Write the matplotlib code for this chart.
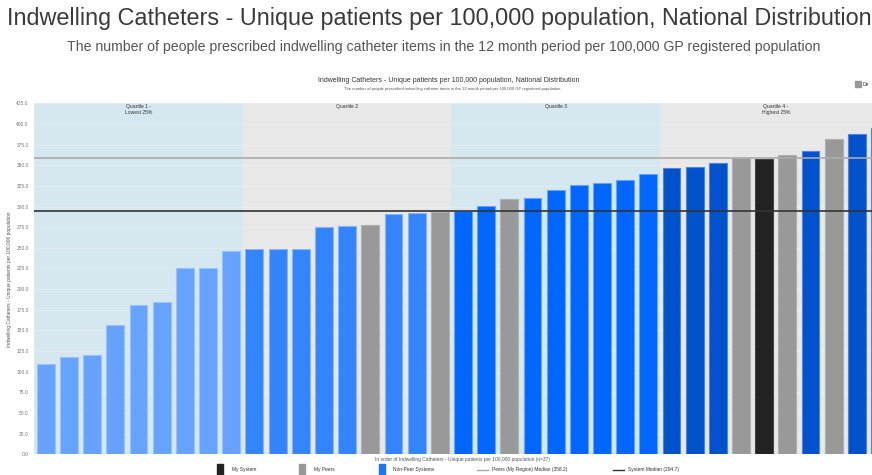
import numpy as np
import matplotlib.pyplot as plt
from matplotlib.patches import Rectangle
from matplotlib.lines import Line2D

plt.rcParams['font.family'] = ['Liberation Sans', 'DejaVu Sans']

# values per system, sorted ascending (n=37)
values = [109.0, 117.4, 119.9, 156.2, 181.2, 184.8, 225.6, 225.6, 246.2,
          248.2, 248.2, 248.2, 275.6, 276.8, 278.0, 290.6, 292.5, 293.7,
          294.7, 300.3, 309.1, 310.3, 320.4, 325.7, 328.9, 332.1, 339.4,
          346.6, 347.9, 352.7, 358.2, 358.0, 362.8, 366.9, 381.8, 387.4, 394.7]
# 'q' = non-peer, 'p' = peer, 'm' = my system
kind = ['q'] * 14 + ['p'] + ['q'] * 2 + ['p'] + ['q'] * 2 + ['p'] + ['q'] * 9 + \
       ['p', 'm', 'p', 'q', 'p', 'q', 'q']
quartile_ends = [9, 18, 27, 37]
quartile_labels = ['Quartile 1 -\nLowest 25%', 'Quartile 2', 'Quartile 3', 'Quartile 4 -\nHighest 25%']
peer_median = 358.2
system_median = 294.7

q_colors = ['#66a3ff', '#3385ff', '#0066ff', '#0052cc']
q_edges = ['#99c2ff', '#85b5ff', '#66a3ff', '#4d86e0']
band_colors = ['#d5e8ef', '#e8e8e8', '#d5e8ef', '#e8e8e8']

W, H = 872, 475
fig = plt.figure(figsize=(W / 100, H / 100), dpi=100)
ax = fig.add_axes([34.3 / W, 1 - 454.3 / H, 857.3 / W, 351 / H])

n = len(values)
x = np.arange(n)
colors, edges = [], []
for i, k in enumerate(kind):
    q = next(j for j, e in enumerate(quartile_ends) if i < e)
    if k == 'p':
        colors.append('#999999'); edges.append('#b0b0b0')
    elif k == 'm':
        colors.append('#222222'); edges.append('#444444')
    else:
        colors.append(q_colors[q]); edges.append(q_edges[q])

start = -0.5
for j, e in enumerate(quartile_ends):
    ax.axvspan(start, e - 0.5, color=band_colors[j], zorder=0, lw=0)
    ax.text((start + e - 0.5) / 2, 424, quartile_labels[j], ha='center', va='top',
            fontsize=3.6, color='#333333', linespacing=1.3)
    start = e - 0.5

for yv in np.arange(0, 426, 25):
    ax.axhline(yv, color='white', lw=0.5, alpha=0.35, zorder=1)

ax.bar(x, values, width=0.77, color=colors, edgecolor=edges, linewidth=0.8, zorder=2)
ax.axhline(peer_median, color='#aaaaaa', lw=1.2, zorder=3)
ax.axhline(system_median, color='#333333', lw=1.2, zorder=3)

ax.set_xlim(-0.5, n - 0.5)
ax.set_ylim(0, 425)
ax.set_yticks(np.arange(0, 426, 25))
ax.set_yticklabels(['%.1f' % v for v in np.arange(0, 426, 25)], fontsize=3.5, color='#777777')
ax.tick_params(axis='y', length=0, pad=4)
ax.set_xticks([])
for s in ax.spines.values():
    s.set_visible(False)
ax.set_ylabel('Indwelling Catheters - Unique patients per 100,000 population', fontsize=3.5,
              color='#555555', labelpad=3)
ax.set_xlabel('In order of Indwelling Catheters - Unique patients per 100,000 population (n=37)',
              fontsize=3.5, color='#555555', labelpad=2)

fig.text(439 / W, 1 - 19 / H, 'Indwelling Catheters - Unique patients per 100,000 population, National Distribution',
         ha='center', va='center', fontsize=16.8, color='#3a3a3a')
fig.text(444 / W, 1 - 47 / H, 'The number of people prescribed indwelling catheter items in the 12 month period per 100,000 GP registered population',
         ha='center', va='center', fontsize=10.15, color='#555555')
fig.text(449 / W, 1 - 80 / H, 'Indwelling Catheters - Unique patients per 100,000 population, National Distribution',
         ha='center', va='center', fontsize=5, color='#333333')
fig.text(452 / W, 1 - 89 / H, 'The number of people prescribed indwelling catheter items in the 12 month period per 100,000 GP registered population',
         ha='center', va='center', fontsize=3, color='#555555')

# top right legend (cut off by the edge of the picture)
fig.patches.append(Rectangle((855 / W, 1 - 87 / H), 6 / W, 6 / H, transform=fig.transFigure,
                             color='#999999'))
fig.text(863 / W, 1 - 84 / H, 'De', fontsize=3.6, va='center', color='#333333')

# bottom legend
leg_y = 1 - 470 / H
for xs, c, lab, xt in [(217, '#222222', 'My System', 232), (299, '#999999', 'My Peers', 314),
                       (379, '#1a75ff', 'Non-Peer Systems', 393)]:
    fig.patches.append(Rectangle((xs / W, 0), 6 / W, 11 / H, transform=fig.transFigure, color=c))
    fig.text(xt / W, leg_y, lab, fontsize=3.5, va='center', color='#333333')
for x0, c, lab in [(477, '#aaaaaa', 'Peers (My Region) Median (358.2)'),
                   (613, '#333333', 'System Median (294.7)')]:
    fig.lines.append(Line2D([x0 / W, (x0 + 11) / W], [leg_y, leg_y], transform=fig.transFigure,
                            color=c, lw=1))
    fig.text((x0 + 15) / W, leg_y, lab, fontsize=3.5, va='center', color='#333333')

fig.savefig('out.png', dpi=100)
